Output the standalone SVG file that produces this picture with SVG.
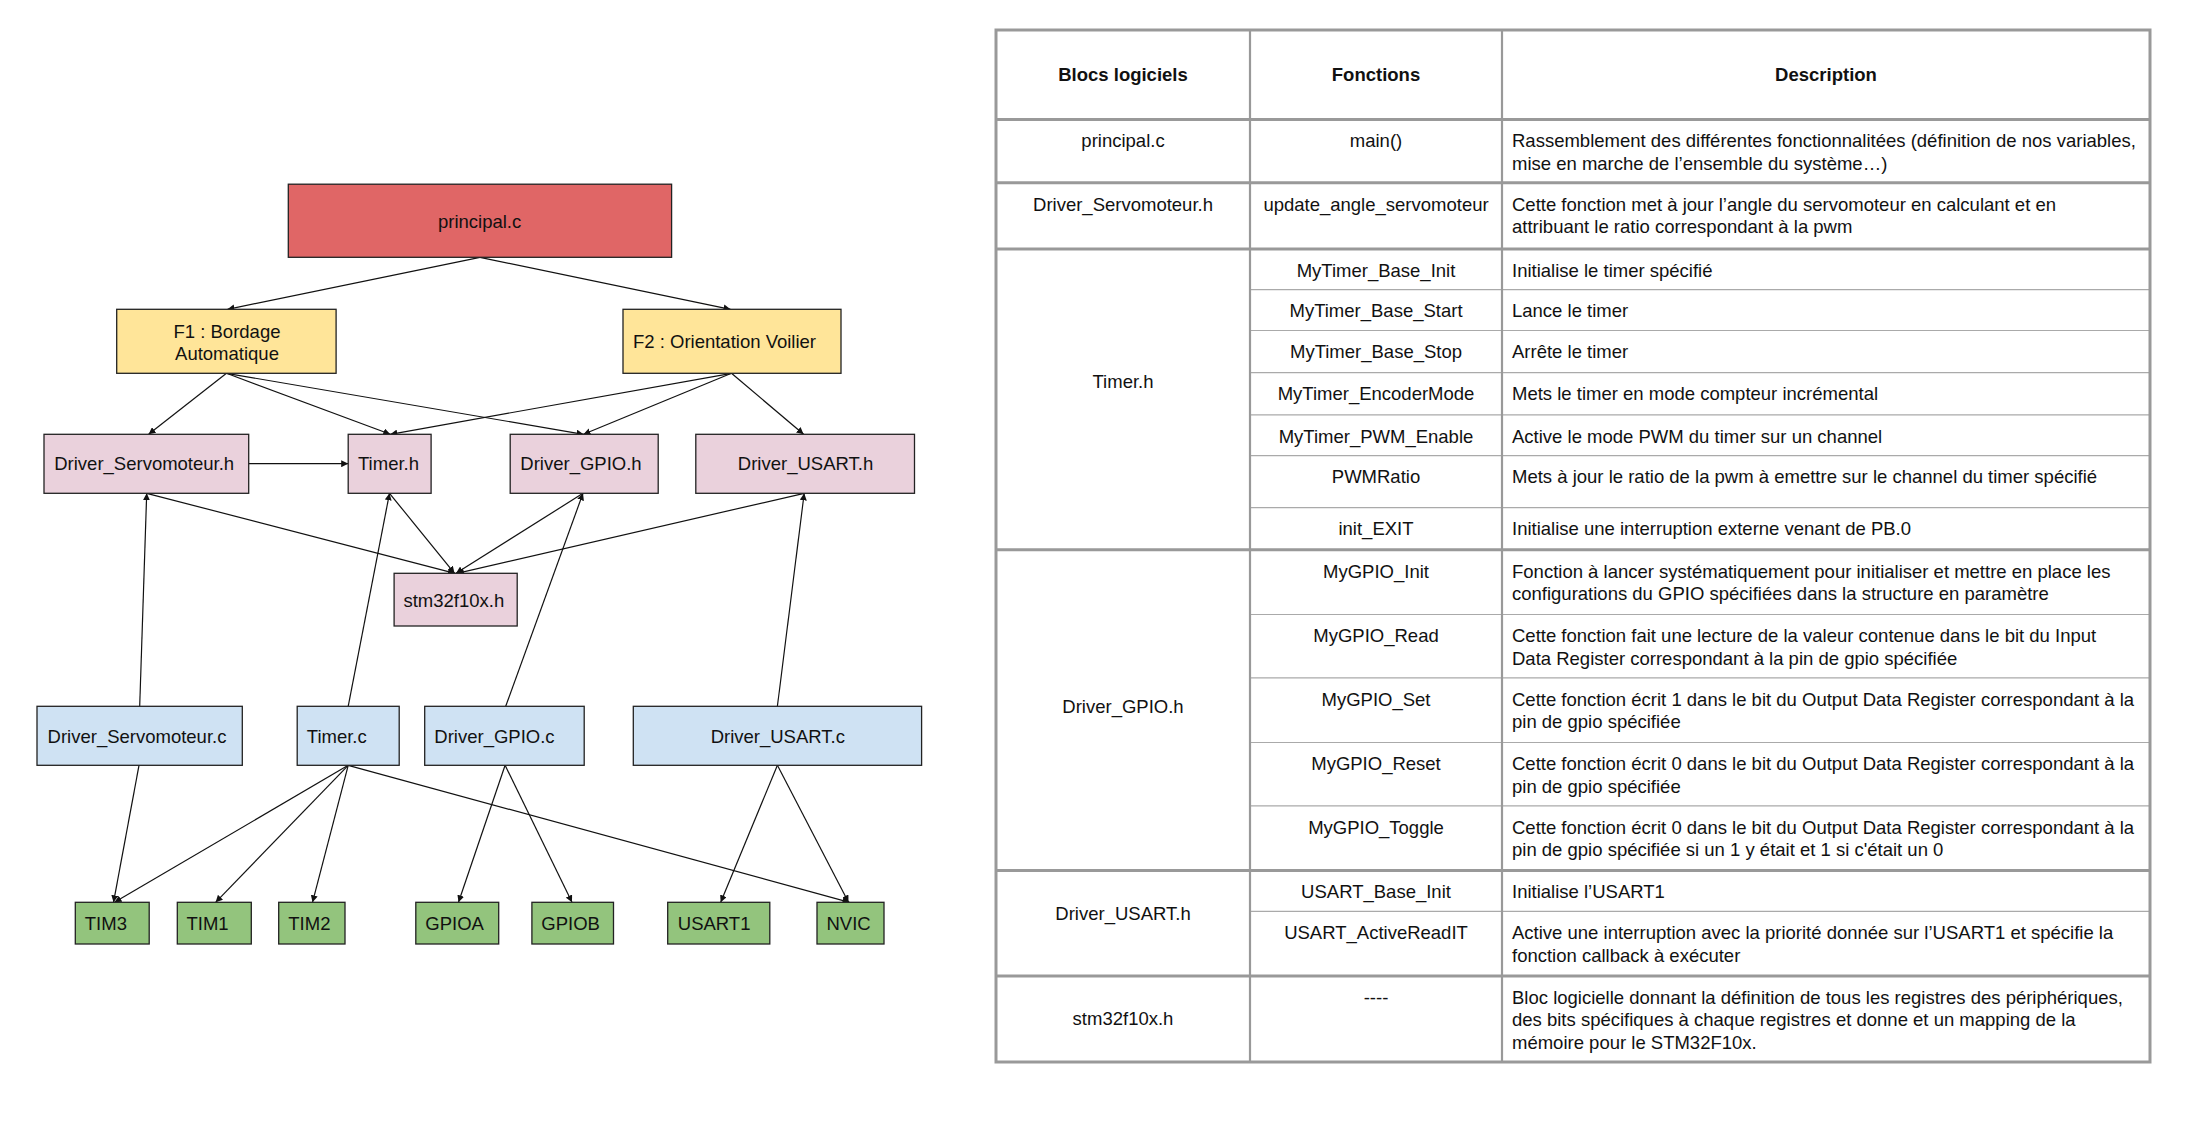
<svg xmlns="http://www.w3.org/2000/svg" width="2205" height="1121" viewBox="0 0 2205 1121">
<style>
text{font-family:"Liberation Sans",Arial,sans-serif;font-size:18.5px;fill:#111}
.c{text-anchor:middle}
.b{font-weight:bold}
.n rect{stroke:#222;stroke-width:1.3}
.red{fill:#e06666}.yel{fill:#ffe599}.pink{fill:#ead1dc}.blue{fill:#cfe2f3}.green{fill:#93c47d}
#connectors line{stroke:#111;stroke-width:1.2;marker-end:url(#ah)}
.thick{stroke:#999;stroke-width:3;fill:none}
.vert{stroke:#999;stroke-width:2.2}
.thin{stroke:#aaa;stroke-width:1.2}
</style>
<defs>
<marker id="ah" viewBox="0 0 10 10" refX="10" refY="5" markerWidth="7" markerHeight="7" markerUnits="userSpaceOnUse" orient="auto">
<path d="M0,0 L10,5 L0,10 z" fill="#111"/>
</marker>
</defs>
<rect width="2205" height="1121" fill="#fff"/>

<g id="connectors">
<line x1="480" y1="257.3" x2="227.5" y2="309.3"/>
<line x1="480" y1="257.3" x2="730.5" y2="309.3"/>
<line x1="226.5" y1="373.3" x2="148.6" y2="434.3"/>
<line x1="226.5" y1="373.3" x2="390.3" y2="434.3"/>
<line x1="226.5" y1="373.3" x2="583.5" y2="434.3"/>
<line x1="731.5" y1="373.3" x2="390.3" y2="434.3"/>
<line x1="731.5" y1="373.3" x2="583.5" y2="434.3"/>
<line x1="731.5" y1="373.3" x2="803.6" y2="434.3"/>
<line x1="248.7" y1="463.7" x2="348.2" y2="463.7"/>
<line x1="146.7" y1="493.3" x2="455" y2="573.3"/>
<line x1="139.7" y1="706.3" x2="146.7" y2="493.3"/>
<line x1="389.5" y1="493.3" x2="454.5" y2="573.3"/>
<line x1="348.2" y1="706.3" x2="389.5" y2="493.3"/>
<line x1="583" y1="493.3" x2="456" y2="573.3"/>
<line x1="505.7" y1="706.3" x2="583" y2="493.3"/>
<line x1="804.2" y1="493.3" x2="457" y2="573.3"/>
<line x1="777.4" y1="706.3" x2="804.2" y2="493.3"/>
<line x1="139" y1="765.3" x2="113.5" y2="902.3"/>
<line x1="348.2" y1="765.3" x2="114.5" y2="902.3"/>
<line x1="348.2" y1="765.3" x2="215.6" y2="902.3"/>
<line x1="348.2" y1="765.3" x2="312.5" y2="902.3"/>
<line x1="348.2" y1="765.3" x2="849.5" y2="902.3"/>
<line x1="505.1" y1="765.3" x2="458.5" y2="902.3"/>
<line x1="505.1" y1="765.3" x2="572" y2="902.3"/>
<line x1="777.4" y1="765.3" x2="720.7" y2="902.3"/>
<line x1="777.4" y1="765.3" x2="848.5" y2="902.3"/>
</g>

<g id="principal" class="n"><rect class="red" x="288.3" y="184.2" width="383.3" height="73.1"/><text class="c" x="479.6" y="227.7">principal.c</text></g>
<g id="f1" class="n"><rect class="yel" x="116.7" y="309.3" width="219.4" height="64"/><text class="c" x="227" y="337.7">F1 : Bordage</text><text class="c" x="227" y="360">Automatique</text></g>
<g id="f2" class="n"><rect class="yel" x="623" y="309.3" width="218" height="64"/><text class="c" x="724.5" y="348">F2 : Orientation Voilier</text></g>

<g id="servo_h" class="n"><rect class="pink" x="44" y="434.3" width="204.7" height="59"/><text class="c" x="144.2" y="470.4">Driver_Servomoteur.h</text></g>
<g id="timer_h" class="n"><rect class="pink" x="348.2" y="434.3" width="82.9" height="59"/><text class="c" x="388.5" y="470.4">Timer.h</text></g>
<g id="gpio_h" class="n"><rect class="pink" x="510.2" y="434.3" width="148" height="59"/><text class="c" x="581" y="470.4">Driver_GPIO.h</text></g>
<g id="usart_h" class="n"><rect class="pink" x="695.8" y="434.3" width="218.7" height="59"/><text class="c" x="805.5" y="470.4">Driver_USART.h</text></g>
<g id="stm32" class="n"><rect class="pink" x="394.1" y="573.3" width="123.1" height="52.7"/><text class="c" x="453.8" y="606.6">stm32f10x.h</text></g>

<g id="servo_c" class="n"><rect class="blue" x="37" y="706.3" width="205.3" height="59"/><text class="c" x="137" y="743.2">Driver_Servomoteur.c</text></g>
<g id="timer_c" class="n"><rect class="blue" x="297.2" y="706.3" width="102" height="59"/><text x="306.8" y="743.2">Timer.c</text></g>
<g id="gpio_c" class="n"><rect class="blue" x="424.7" y="706.3" width="159.5" height="59"/><text x="434.3" y="743.2">Driver_GPIO.c</text></g>
<g id="usart_c" class="n"><rect class="blue" x="633.3" y="706.3" width="288.3" height="59"/><text class="c" x="777.8" y="743.2">Driver_USART.c</text></g>

<g id="tim3" class="n"><rect class="green" x="75.3" y="902.3" width="73.9" height="41.7"/><text x="84.8" y="930">TIM3</text></g>
<g id="tim1" class="n"><rect class="green" x="177.3" y="902.3" width="74" height="41.7"/><text x="186.5" y="930">TIM1</text></g>
<g id="tim2" class="n"><rect class="green" x="278.7" y="902.3" width="66.3" height="41.7"/><text x="288.3" y="930">TIM2</text></g>
<g id="gpioa" class="n"><rect class="green" x="415.8" y="902.3" width="82.9" height="41.7"/><text x="425.3" y="930">GPIOA</text></g>
<g id="gpiob" class="n"><rect class="green" x="531.9" y="902.3" width="81.6" height="41.7"/><text x="541.3" y="930">GPIOB</text></g>
<g id="usart1" class="n"><rect class="green" x="667.7" y="902.3" width="102.1" height="41.7"/><text x="677.8" y="930">USART1</text></g>
<g id="nvic" class="n"><rect class="green" x="817" y="902.3" width="67" height="41.7"/><text x="826.5" y="930">NVIC</text></g>

<g id="table">
<line class="thin" x1="1250" y1="289.7" x2="2150" y2="289.7"/>
<line class="thin" x1="1250" y1="330.5" x2="2150" y2="330.5"/>
<line class="thin" x1="1250" y1="372.7" x2="2150" y2="372.7"/>
<line class="thin" x1="1250" y1="414.8" x2="2150" y2="414.8"/>
<line class="thin" x1="1250" y1="455.6" x2="2150" y2="455.6"/>
<line class="thin" x1="1250" y1="507.7" x2="2150" y2="507.7"/>
<line class="thin" x1="1250" y1="614.5" x2="2150" y2="614.5"/>
<line class="thin" x1="1250" y1="677.8" x2="2150" y2="677.8"/>
<line class="thin" x1="1250" y1="742.5" x2="2150" y2="742.5"/>
<line class="thin" x1="1250" y1="805.8" x2="2150" y2="805.8"/>
<line class="thin" x1="1250" y1="911.3" x2="2150" y2="911.3"/>
<line class="vert" x1="1250" y1="30" x2="1250" y2="1062"/>
<line class="vert" x1="1502" y1="30" x2="1502" y2="1062"/>
<line class="thick" x1="996" y1="119.5" x2="2150" y2="119.5"/>
<line class="thick" x1="996" y1="182.8" x2="2150" y2="182.8"/>
<line class="thick" x1="996" y1="248.9" x2="2150" y2="248.9"/>
<line class="thick" x1="996" y1="549.8" x2="2150" y2="549.8"/>
<line class="thick" x1="996" y1="870.5" x2="2150" y2="870.5"/>
<line class="thick" x1="996" y1="975.9" x2="2150" y2="975.9"/>
<rect class="thick" x="996" y="30" width="1154" height="1032"/>

<text class="c b" x="1123" y="80.7">Blocs logiciels</text>
<text class="c b" x="1376" y="80.7">Fonctions</text>
<text class="c b" x="1826" y="80.7">Description</text>

<text class="c" x="1123" y="147.2">principal.c</text>
<text class="c" x="1376" y="147.2">main()</text>
<text x="1512" y="147.2">Rassemblement des différentes fonctionnalitées (définition de nos variables,</text>
<text x="1512" y="169.7">mise en marche de l’ensemble du système…)</text>

<text class="c" x="1123" y="210.5">Driver_Servomoteur.h</text>
<text class="c" x="1376" y="210.5">update_angle_servomoteur</text>
<text x="1512" y="210.5">Cette fonction met à jour l’angle du servomoteur en calculant et en</text>
<text x="1512" y="233">attribuant le ratio correspondant à la pwm</text>

<text class="c" x="1123" y="387.7">Timer.h</text>
<text class="c" x="1376" y="276.6">MyTimer_Base_Init</text>
<text x="1512" y="276.6">Initialise le timer spécifié</text>
<text class="c" x="1376" y="317.4">MyTimer_Base_Start</text>
<text x="1512" y="317.4">Lance le timer</text>
<text class="c" x="1376" y="358.2">MyTimer_Base_Stop</text>
<text x="1512" y="358.2">Arrête le timer</text>
<text class="c" x="1376" y="400.4">MyTimer_EncoderMode</text>
<text x="1512" y="400.4">Mets le timer en mode compteur incrémental</text>
<text class="c" x="1376" y="442.5">MyTimer_PWM_Enable</text>
<text x="1512" y="442.5">Active le mode PWM du timer sur un channel</text>
<text class="c" x="1376" y="483.3">PWMRatio</text>
<text x="1512" y="483.3">Mets à jour le ratio de la pwm à emettre sur le channel du timer spécifié</text>
<text class="c" x="1376" y="535.4">init_EXIT</text>
<text x="1512" y="535.4">Initialise une interruption externe venant de PB.0</text>

<text class="c" x="1123" y="712.7">Driver_GPIO.h</text>
<text class="c" x="1376" y="577.5">MyGPIO_Init</text>
<text x="1512" y="577.5">Fonction à lancer systématiquement pour initialiser et mettre en place les</text>
<text x="1512" y="600">configurations du GPIO spécifiées dans la structure en paramètre</text>
<text class="c" x="1376" y="642.2">MyGPIO_Read</text>
<text x="1512" y="642.2">Cette fonction fait une lecture de la valeur contenue dans le bit du Input</text>
<text x="1512" y="664.7">Data Register correspondant à la pin de gpio spécifiée</text>
<text class="c" x="1376" y="705.5">MyGPIO_Set</text>
<text x="1512" y="705.5">Cette fonction écrit 1 dans le bit du Output Data Register correspondant à la</text>
<text x="1512" y="728">pin de gpio spécifiée</text>
<text class="c" x="1376" y="770.2">MyGPIO_Reset</text>
<text x="1512" y="770.2">Cette fonction écrit 0 dans le bit du Output Data Register correspondant à la</text>
<text x="1512" y="792.7">pin de gpio spécifiée</text>
<text class="c" x="1376" y="833.5">MyGPIO_Toggle</text>
<text x="1512" y="833.5">Cette fonction écrit 0 dans le bit du Output Data Register correspondant à la</text>
<text x="1512" y="856">pin de gpio spécifiée si un 1 y était et 1 si c'était un 0</text>

<text class="c" x="1123" y="919.7">Driver_USART.h</text>
<text class="c" x="1376" y="898.2">USART_Base_Init</text>
<text x="1512" y="898.2">Initialise l’USART1</text>
<text class="c" x="1376" y="939">USART_ActiveReadIT</text>
<text x="1512" y="939">Active une interruption avec la priorité donnée sur l’USART1 et spécifie la</text>
<text x="1512" y="961.5">fonction callback à exécuter</text>

<text class="c" x="1123" y="1024.7">stm32f10x.h</text>
<text class="c" x="1376" y="1003.6">----</text>
<text x="1512" y="1003.6">Bloc logicielle donnant la définition de tous les registres des périphériques,</text>
<text x="1512" y="1026.1">des bits spécifiques à chaque registres et donne et un mapping de la</text>
<text x="1512" y="1048.6">mémoire pour le STM32F10x.</text>
</g>
</svg>
